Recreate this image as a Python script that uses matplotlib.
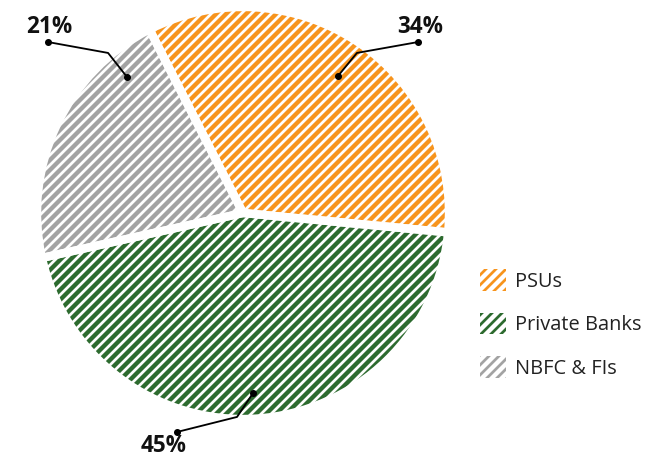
import matplotlib
matplotlib.use('Agg')
import matplotlib.pyplot as plt
from matplotlib.patches import Patch

plt.rcParams['font.family'] = ['Open Sans', 'DejaVu Sans']
plt.rcParams['hatch.linewidth'] = 2.6

# data
labels = ['PSUs', 'Private Banks', 'NBFC & FIs']
shares = [34, 45, 21]
colors = ['#F7941D', '#2D6B2F', '#A3A3A3']

# callout layout (data coords, pie radius = 1): inner dot, elbow, outer dot, text pos
callouts = [
    ((0.461, 0.665), (0.553, 0.777), (0.850, 0.830), (0.859, 0.872)),
    ((0.049, -0.874), (-0.029, -0.990), (-0.320, -1.063), (-0.386, -1.158)),
    ((-0.563, 0.660), (-0.655, 0.777), (-0.947, 0.830), (-0.939, 0.876)),
]

fig = plt.figure(figsize=(646 / 120, 458 / 120), dpi=120)
ax = fig.add_axes([0, 0, 1, 1])

# hatched wedges, then white outlines on top for the gaps
wedges, _ = ax.pie(shares, startangle=117, counterclock=False, radius=1.0,
                   colors=['white'] * 3)
for w, c in zip(wedges, colors):
    w.set_facecolor('white')
    w.set_edgecolor(c)
    w.set_hatch('////')
    w.set_linewidth(0)
ax.pie(shares, startangle=117, counterclock=False, radius=1.0,
       wedgeprops=dict(facecolor='none', edgecolor='white', linewidth=5))

for (p0, p1, p2, pt), v in zip(callouts, shares):
    ax.plot([p0[0], p1[0], p2[0]], [p0[1], p1[1], p2[1]], color='black', lw=1.1,
            clip_on=False)
    ax.plot([p0[0], p2[0]], [p0[1], p2[1]], 'o', color='black', ms=3.2, clip_on=False)
    ax.text(pt[0], pt[1], f'{v}%', ha='center', va='baseline', fontsize=13.5,
            fontweight='bold', color='#111111', clip_on=False)

ax.set_xlim(-243 / 206, 403 / 206)
ax.set_ylim(-245 / 206, 213 / 206)
ax.set_aspect('auto')
ax.axis('off')

handles = [Patch(facecolor=c, edgecolor='white', hatch='////', linewidth=0) for c in colors]
fig.legend(handles, labels, loc='upper left', bbox_to_anchor=(480 / 646, 1 - 269 / 458),
           frameon=False, fontsize=12, handlelength=1.3, handleheight=1.3,
           handletextpad=0.45, labelspacing=1.05, borderpad=0, borderaxespad=0,
           labelcolor='#222222')

fig.savefig('out.png', dpi=120, facecolor='white')
